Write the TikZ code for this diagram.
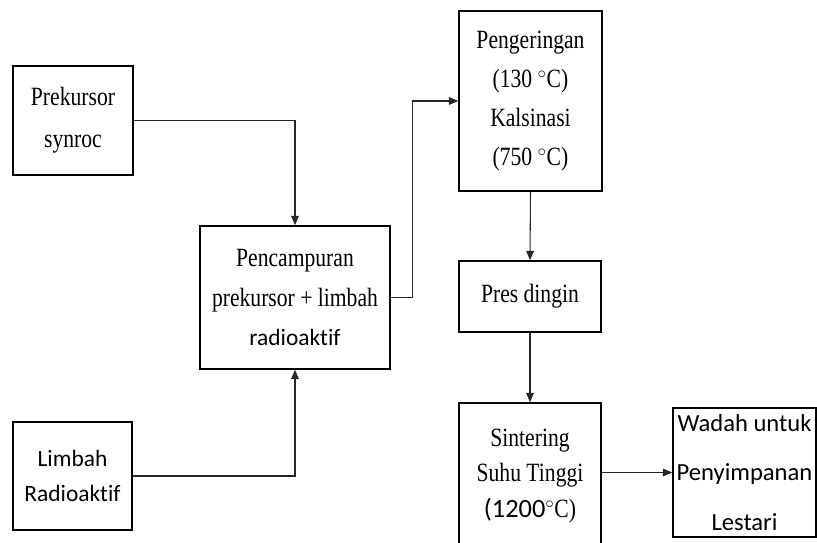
\documentclass[tikz,border=0pt]{standalone}
\usepackage{fontspec}
\setmainfont{Liberation Serif}[FakeStretch=0.82]
\newfontfamily\calfont{Carlito}[Ligatures=NoCommon]
\usetikzlibrary{arrows.meta}

\begin{document}
\begin{tikzpicture}[x=0.03cm, y=-0.03cm, >={Triangle[length=8pt,width=6.5pt]}]

\def\pxu{0.03cm}
\def\boxline{1.3pt}
\def\flowline{0.9pt}

% Colours
\colorlet{boxcolor}{black}
\colorlet{flowcolor}{black!85}

% Styles
\tikzstyle{process box}=[draw=boxcolor, line width=\boxline, align=center, inner sep=0pt, font=\fontsize{22.5}{30}\selectfont]
\tikzstyle{flow line}=[flowcolor, line width=\flowline, ->]

% Frame
\clip (0,0) rectangle (817,543);
\fill[white] (0,0) rectangle (817,543);

% Input boxes
\node[process box, minimum width=120*\pxu, minimum height=109*\pxu, font=\fontsize{22.5}{36}\selectfont] (prekursor) at (73,120.5) {Prekursor\\synroc};
\node[process box, minimum width=119*\pxu, minimum height=108*\pxu, font=\calfont\fontsize{20}{30}\selectfont] (limbah) at (72.5,476) {Limbah\\Radioaktif};

% Mixing
\node[process box, minimum width=190*\pxu, minimum height=143*\pxu, font=\fontsize{22.5}{34}\selectfont] (campur) at (295,297.5) {Pencampuran\\prekursor + limbah\\{\calfont\fontsize{20}{34}\selectfont radioaktif}};

% Process column
\node[process box, minimum width=143*\pxu, minimum height=180*\pxu, font=\fontsize{22.5}{33.5}\selectfont] (kering) at (530.5,101) {Pengeringan\\(130 $^{\circ}$C)\\Kalsinasi\\(750 $^{\circ}$C)};
\node[process box, minimum width=142*\pxu, minimum height=71*\pxu] (pres) at (530,296.5) {Pres dingin};
\node[process box, minimum width=142*\pxu, minimum height=146*\pxu] (sinter) at (530,476) {Sintering\\Suhu Tinggi\\{\calfont (1200}$^{\circ}$C)};

% Storage
\node[process box, minimum width=143*\pxu, minimum height=129*\pxu, font=\calfont\fontsize{21}{42}\selectfont] (wadah) at (744.5,472.5) {Wadah untuk\\Penyimpanan\\Lestari};

% Flow
\draw[flow line] (prekursor.east) -| (campur.north);
\draw[flow line] (limbah.east) -| (campur.south);
\draw[flow line] (campur.east) -- ++(22,0) |- (kering.west);
\draw[flow line] (kering.south) -- (pres.north);
\draw[flow line] (pres.south) -- (sinter.north);
\draw[flow line] (sinter.east |- wadah.west) -- (wadah.west);

\end{tikzpicture}
\end{document}
